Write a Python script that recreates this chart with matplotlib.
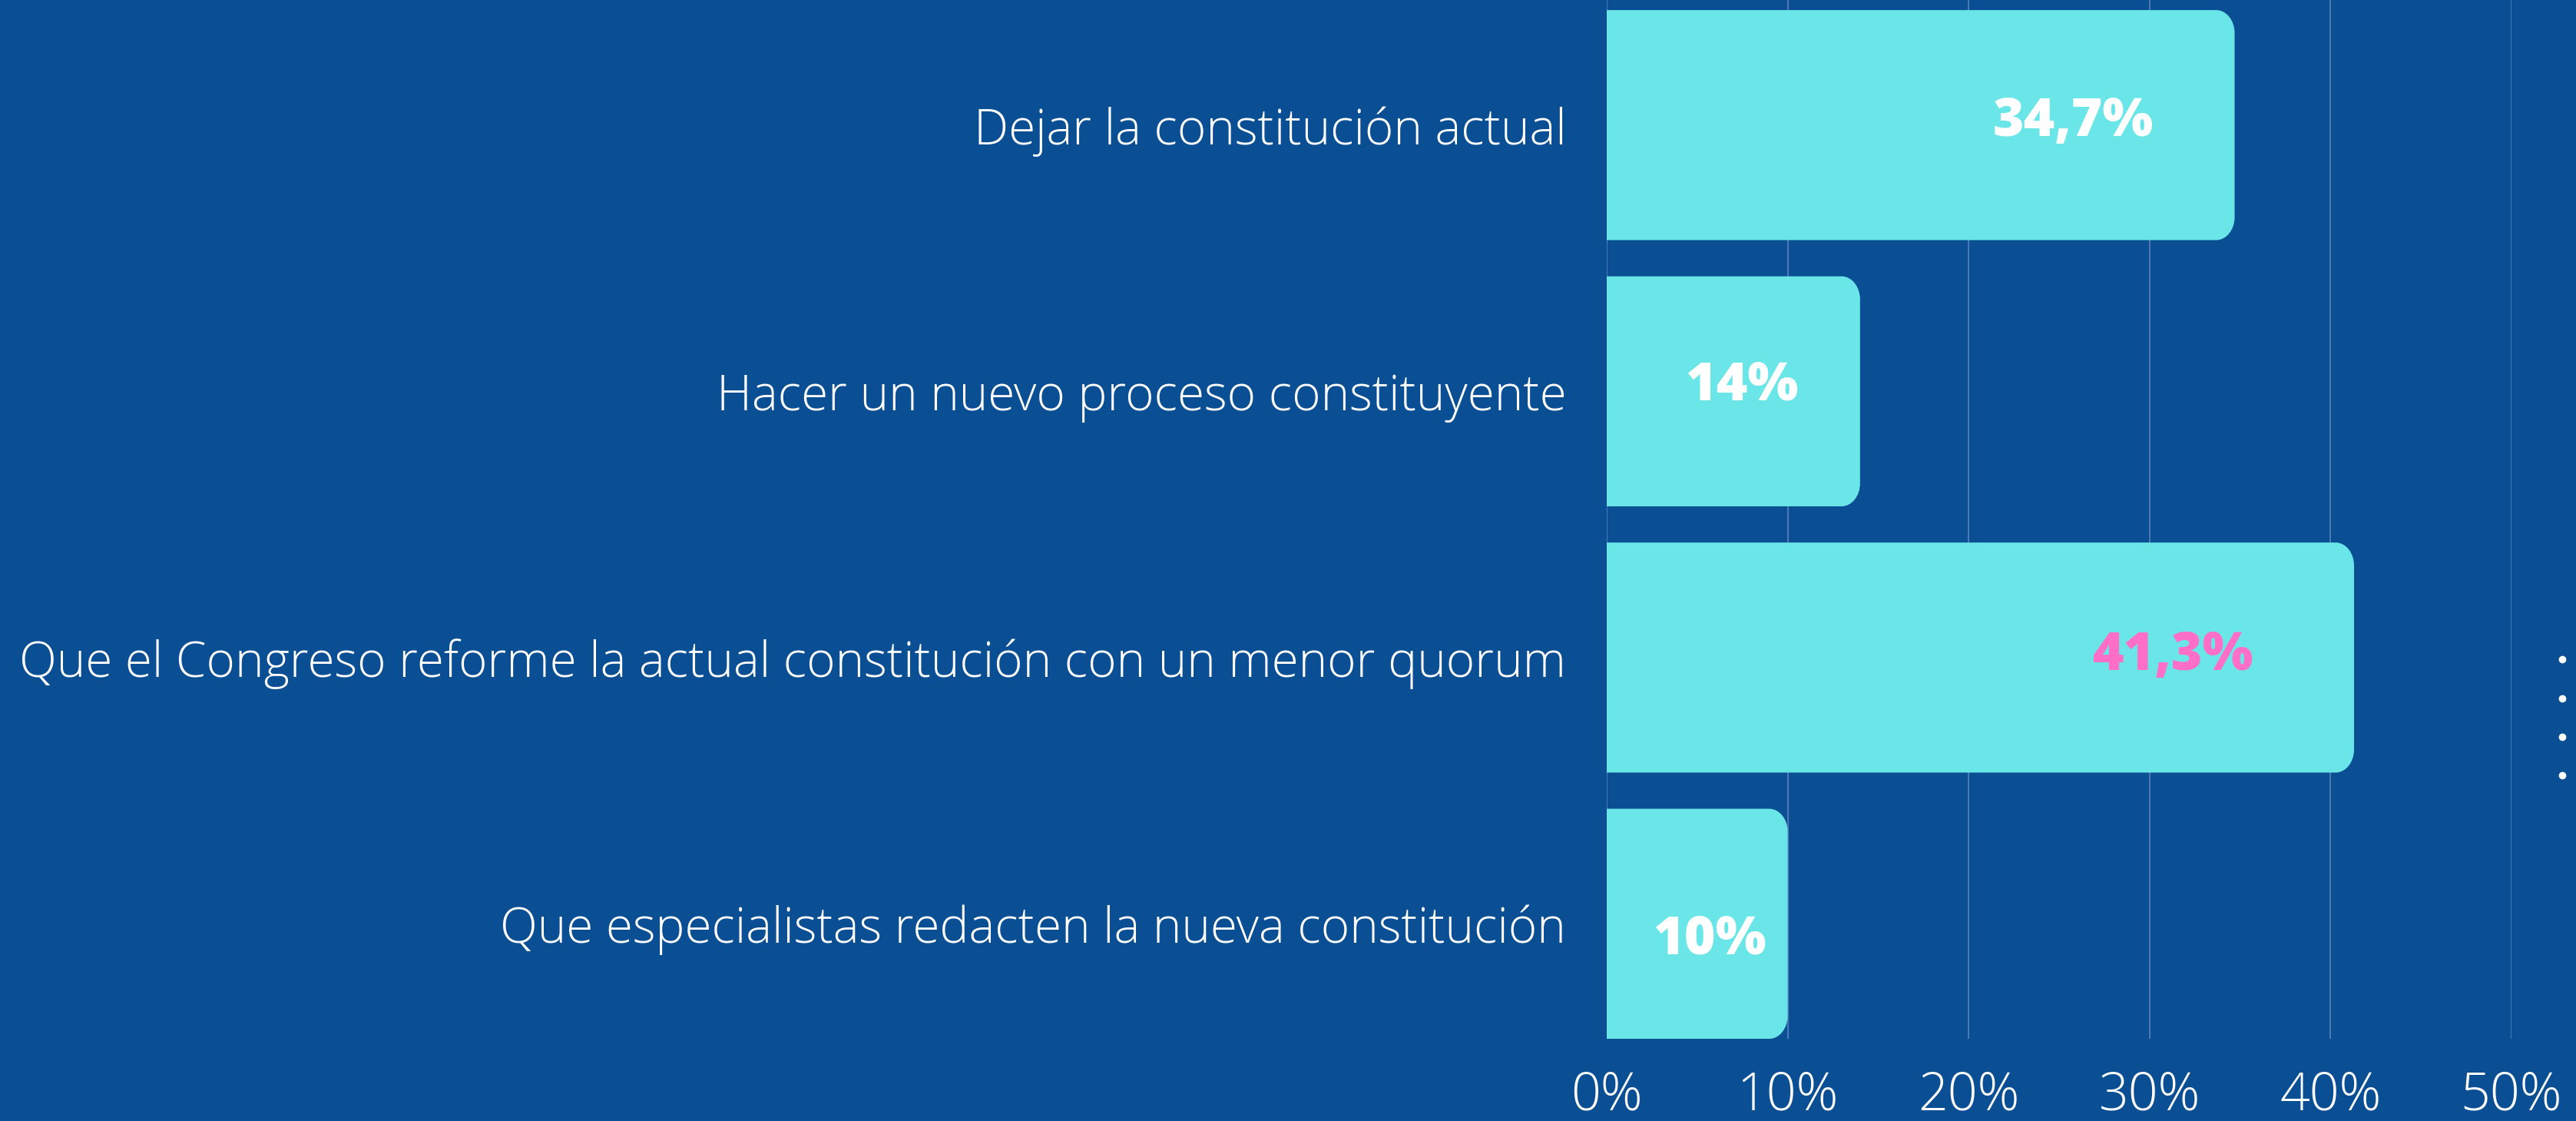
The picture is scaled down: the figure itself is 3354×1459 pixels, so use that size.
import matplotlib
matplotlib.use("Agg")
import matplotlib.pyplot as plt
from matplotlib.path import Path
from matplotlib.patches import PathPatch

# Data
categories = [
    "Dejar la constitución actual",
    "Hacer un nuevo proceso constituyente",
    "Que el Congreso reforme la actual constitución con un menor quorum",
    "Que especialistas redacten la nueva constitución",
]
values = [34.7, 14, 41.3, 10]
value_labels = ["34,7%", "14%", "41,3%", "10%"]
label_colors = ["white", "white", "#ff6ec7", "white"]
label_x = [25.8, 7.45, 31.3, 5.7]
label_dy = [-0.01, -0.02, -0.005, 0.06]
ticks = [0, 10, 20, 30, 40, 50]
tick_labels = ["0%", "10%", "20%", "30%", "40%", "50%"]

bg = "#0a4e94"
bar_color = "#6ae6e8"
grid_color = "#4a78b4"

W, H = 3354, 1459
fig = plt.figure(figsize=(W / 100, H / 100), dpi=100, facecolor=bg)
ax = fig.add_axes([2092 / W, (H - 1352) / H, (3270 - 2092) / W, 1352 / H])
ax.set_facecolor(bg)

bar_h = 0.864
ypos = list(range(len(categories)))
bars = ax.barh(ypos, values, height=bar_h, color=bar_color, zorder=2)

ax.set_xlim(0, 50)
ax.set_ylim(3 + bar_h / 2, 3 + bar_h / 2 - 1352 / 346.5)

# rounded right corners (radius in pixels converted to data units)
px_x = (3270 - 2092) / 50.0
px_y = 346.5
rx = 24 / px_x
ry = 30 / px_y
for b in bars:
    x0, y0 = b.get_x(), b.get_y()
    x1, y1 = x0 + b.get_width(), y0 + b.get_height()
    k = 0.5523
    verts = [
        (x0, y0),
        (x1 - rx, y0),
        (x1 - rx + k * rx, y0), (x1, y0 + ry - k * ry), (x1, y0 + ry),
        (x1, y1 - ry),
        (x1, y1 - ry + k * ry), (x1 - rx + k * rx, y1), (x1 - rx, y1),
        (x0, y1),
        (x0, y0),
    ]
    codes = [Path.MOVETO, Path.LINETO,
             Path.CURVE4, Path.CURVE4, Path.CURVE4,
             Path.LINETO,
             Path.CURVE4, Path.CURVE4, Path.CURVE4,
             Path.LINETO, Path.CLOSEPOLY]
    ax.add_patch(PathPatch(Path(verts, codes), facecolor=bar_color,
                           edgecolor="none", zorder=3))
    b.set_visible(False)

for i, v in enumerate(values):
    ax.text(label_x[i], ypos[i] + label_dy[i], value_labels[i],
            ha="center", va="center", color=label_colors[i],
            fontsize=50, fontweight=800, family=["Open Sans", "DejaVu Sans"],
            zorder=4)

ax.set_xticks(ticks)
ax.set_xticklabels(tick_labels)
ax.set_yticks(ypos)
ax.set_yticklabels(categories)
ax.tick_params(axis="x", length=0, pad=29, labelsize=49, labelcolor="white")
ax.tick_params(axis="y", length=0, pad=38, labelsize=46, labelcolor="white")
for lab in ax.get_xticklabels() + ax.get_yticklabels():
    lab.set_family(["Open Sans", "DejaVu Sans"])
    lab.set_fontweight("light")

ax.grid(axis="x", color=grid_color, linewidth=1.5, zorder=1)
for s in ax.spines.values():
    s.set_visible(False)

# decorative dots on the right edge
dot_y = [858, 909, 959, 1009]
fig.add_artist(plt.Line2D([3336 / W] * 4, [1 - yy / H for yy in dot_y],
                          transform=fig.transFigure, linestyle="none",
                          marker="o", markersize=7, color="white",
                          markeredgewidth=0))

fig.savefig("out.png", dpi=100, facecolor=bg)
